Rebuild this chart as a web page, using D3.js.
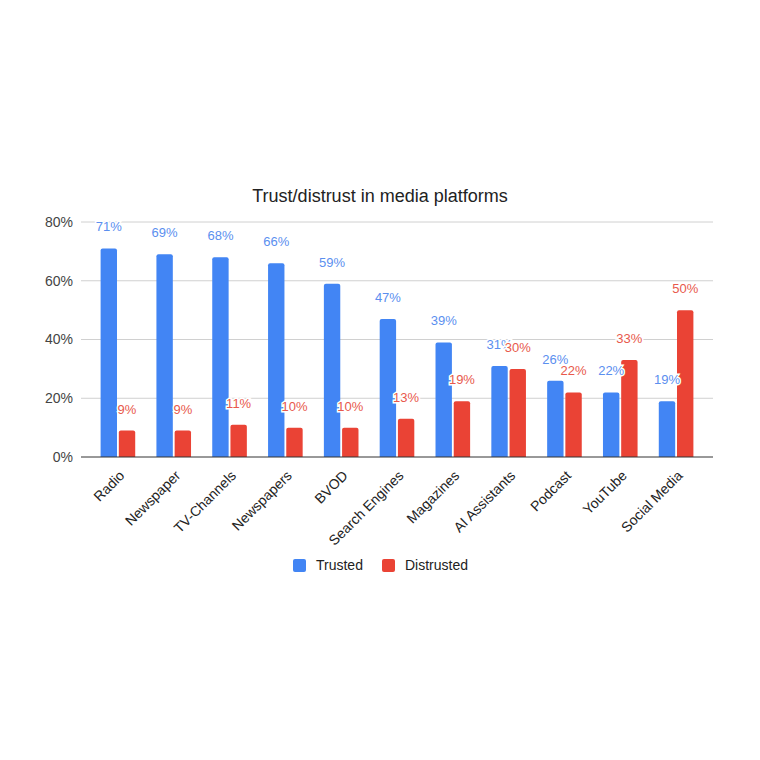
<!DOCTYPE html>
<html lang="en">
<head>
<meta charset="utf-8">
<title>Trust/distrust in media platforms</title>
<script src="https://cdn.jsdelivr.net/npm/d3@7"></script>
<style>
  body { margin: 0; background: #fff; font-family: "Liberation Sans", Arial, sans-serif; }
</style>
</head>
<body>
<script>
// data
var categories = ["Radio", "Newspaper", "TV-Channels", "Newspapers", "BVOD", "Search Engines",
                  "Magazines", "AI Assistants", "Podcast", "YouTube", "Social Media"];
var seriesNames = ["Trusted", "Distrusted"];
var trusted = [71, 69, 68, 66, 59, 47, 39, 31, 26, 22, 19];
var distrusted = [9, 9, 11, 10, 10, 13, 19, 30, 22, 33, 50];
var yTicks = [0, 20, 40, 60, 80];

var W = 760, H = 760;
var plotL = 81, plotR = 713, plotT = 222, plotB = 457;
var font = "'Liberation Sans', Arial, sans-serif";
var colors = ["#4285F4", "#EA4335"];
var labelColors = ["#5B8FEF", "#E8594C"];

var svg = d3.select("body").append("svg")
    .attr("width", W)
    .attr("height", H);

var x = d3.scaleBand()
    .domain(categories)
    .range([plotL + 9, plotR - 9])
    .paddingInner(0.38)
    .paddingOuter(0.19);

var x1 = d3.scaleBand()
    .domain(seriesNames)
    .range([0, x.bandwidth()])
    .paddingInner(0.1);

var y = d3.scaleLinear()
    .domain([0, 80])
    .range([plotB, plotT]);

/* GRID + Y AXIS */
svg.append("g")
    .selectAll("line")
    .data(yTicks.filter(function (d) { return d > 0; }))
    .join("line")
    .attr("x1", plotL)
    .attr("x2", plotR)
    .attr("y1", function (d) { return y(d); })
    .attr("y2", function (d) { return y(d); })
    .attr("stroke", "#d0d0d0")
    .attr("stroke-width", 1);

var yAxis = svg.append("g")
    .attr("transform", "translate(" + plotL + ",0)")
    .call(d3.axisLeft(y).tickValues(yTicks).tickSize(0).tickPadding(8)
        .tickFormat(function (d) { return d + "%"; }));
yAxis.select(".domain").remove();
yAxis.selectAll("text")
    .attr("font-family", font)
    .attr("font-size", 14)
    .attr("fill", "#444");

/* BARS */
var rows = categories.map(function (c, i) {
    return { cat: c, vals: [trusted[i], distrusted[i]] };
});

var groups = svg.append("g")
    .selectAll("g")
    .data(rows)
    .join("g")
    .attr("transform", function (d) { return "translate(" + x(d.cat) + ",0)"; });

groups.selectAll("path")
    .data(function (d) { return d.vals.map(function (v, k) { return { k: k, v: v }; }); })
    .join("path")
    .attr("fill", function (d) { return colors[d.k]; })
    .attr("d", function (d) {
        var bx = x1(seriesNames[d.k]), bw = x1.bandwidth();
        var by = y(d.v), r = 2;
        return "M" + bx + "," + plotB +
            "V" + (by + r) +
            "Q" + bx + "," + by + " " + (bx + r) + "," + by +
            "H" + (bx + bw - r) +
            "Q" + (bx + bw) + "," + by + " " + (bx + bw) + "," + (by + r) +
            "V" + plotB + "Z";
    });

/* VALUE LABELS */
[0, 1].forEach(function (k) {
    groups.append("text")
        .text(function (d) { return d.vals[k] + "%"; })
        .attr("x", function () { return x1(seriesNames[k]) + x1.bandwidth() / 2; })
        .attr("y", function (d) { return y(d.vals[k]) - 17; })
        .attr("text-anchor", "middle")
        .attr("font-family", font)
        .attr("font-size", 13)
        .attr("fill", labelColors[k])
        .attr("stroke", "#fff")
        .attr("stroke-width", 3)
        .attr("paint-order", "stroke");
});

/* BASELINE */
svg.append("line")
    .attr("x1", plotL)
    .attr("x2", plotR)
    .attr("y1", plotB)
    .attr("y2", plotB)
    .attr("stroke", "#333")
    .attr("stroke-width", 1);

/* X AXIS LABELS */
var xAxis = svg.append("g")
    .attr("transform", "translate(0," + plotB + ")")
    .call(d3.axisBottom(x).tickSize(0).tickPadding(0));
xAxis.select(".domain").remove();
xAxis.selectAll("text")
    .attr("font-family", font)
    .attr("font-size", 14)
    .attr("fill", "#222")
    .attr("text-anchor", "end")
    .attr("dy", "0.35em")
    .attr("transform", "translate(4,16) rotate(-45)");

/* TITLE */
svg.append("text")
    .text("Trust/distrust in media platforms")
    .attr("x", 380)
    .attr("y", 202)
    .attr("text-anchor", "middle")
    .attr("font-family", font)
    .attr("font-size", 18)
    .attr("fill", "#222");

/* LEGEND */
var legendX = [293, 382];
var legend = svg.append("g")
    .selectAll("g")
    .data(seriesNames)
    .join("g")
    .attr("transform", function (d, i) { return "translate(" + legendX[i] + ",559)"; });

legend.append("rect")
    .attr("width", 13)
    .attr("height", 13)
    .attr("rx", 2)
    .attr("fill", function (d, i) { return colors[i]; });

legend.append("text")
    .text(function (d) { return d; })
    .attr("x", 23)
    .attr("y", 6.5)
    .attr("dy", "0.35em")
    .attr("font-family", font)
    .attr("font-size", 14)
    .attr("fill", "#222");
</script>
</body>
</html>
